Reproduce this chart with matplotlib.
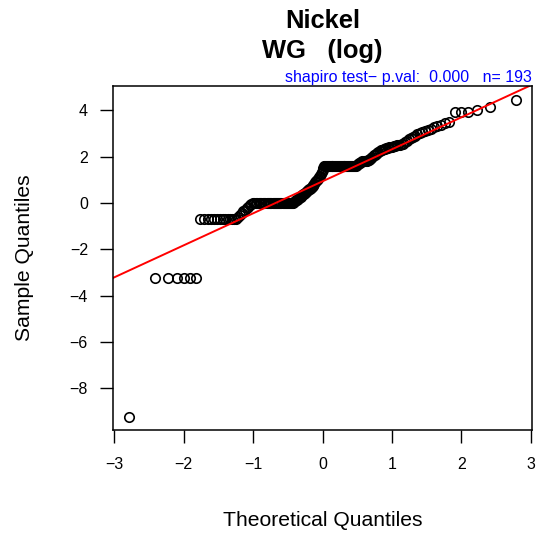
from statistics import NormalDist

import numpy as np
import matplotlib
matplotlib.use("Agg")
import matplotlib.pyplot as plt

plt.rcParams["font.family"] = ["Liberation Sans", "DejaVu Sans"]

# sorted log(Nickel) values, lowest to highest
low_tail = [-9.21] + [-3.22] * 6
step_half = [-0.69] * 14
rise_to_zero = [-0.6, -0.5, -0.43, -0.36, -0.29, -0.22, -0.16, -0.1, -0.05]
step_one = [0.0] * 35
rise_to_five = [0.04, 0.08, 0.11, 0.14, 0.18, 0.21, 0.24, 0.27, 0.30, 0.34, 0.37,
                0.40, 0.44, 0.47, 0.51, 0.54, 0.58, 0.62, 0.66, 0.70, 0.74, 0.78,
                0.83, 0.88, 0.93, 0.99, 1.05, 1.11, 1.18, 1.26, 1.34, 1.42, 1.50]
step_five = [1.61] * 35
upper_mid = [1.65, 1.68, 1.71, 1.74, 1.77, 1.79, 1.79, 1.79, 1.80, 1.82, 1.84, 1.86,
             1.90, 1.95, 2.00, 2.05, 2.08, 2.12, 2.16, 2.20, 2.23, 2.27, 2.30,
             2.32, 2.34, 2.36, 2.38, 2.40, 2.40, 2.42, 2.44, 2.46, 2.48, 2.48, 2.50, 2.52]
upper_rise = [2.56, 2.62, 2.68, 2.74, 2.80, 2.86, 2.90, 2.95, 3.00, 3.05, 3.10, 3.15,
              3.20, 3.26, 3.30, 3.37, 3.43, 3.50]
high_tail = [3.91, 3.91, 3.91, 4.01, 4.14, 4.44]

sample = np.array(low_tail + step_half + rise_to_zero + step_one + rise_to_five
                  + step_five + upper_mid + upper_rise + high_tail)
n = len(sample)
nd = NormalDist()
theo = np.array([nd.inv_cdf((i - 0.5) / n) for i in range(1, n + 1)])

# qqline through the quartiles
q1, q3 = np.quantile(sample, [0.25, 0.75])
z1, z3 = nd.inv_cdf(0.25), nd.inv_cdf(0.75)
slope = (q3 - q1) / (z3 - z1)
intercept = q1 - slope * z1

fig = plt.figure(figsize=(5.37, 5.35), dpi=100)
ax = fig.add_axes([113 / 537, 1 - 430 / 535, (532 - 113) / 537, (430 - 86) / 535])

ax.plot(theo, sample, "o", mfc="none", mec="black", ms=6.8, mew=1.2)
ax.axline((0, intercept), slope=slope, color="red", lw=1.4)

ax.set_xlim(-3.02, 3.02)
ax.set_ylim(-9.79, 5.04)
ax.set_xticks(range(-3, 4))
ax.set_yticks(range(-8, 5, 2))
ax.tick_params(axis="both", length=9.4, width=1.0, labelsize=11.5)
ax.tick_params(axis="x", pad=10)
ax.tick_params(axis="y", pad=8.6)
for s in ax.spines.values():
    s.set_linewidth(1.1)

fig.text(322.5 / 537, 1 - 28 / 535, "Nickel", ha="center", va="baseline",
         fontsize=18.4, fontweight="bold")
fig.text(322.5 / 537, 1 - 58 / 535, "WG   (log)", ha="center", va="baseline",
         fontsize=18.4, fontweight="bold")
fig.text(532 / 537, 1 - 82 / 535, "shapiro test\u2212 p.val:  0.000   n= 193",
         ha="right", va="baseline", fontsize=11.5, color="blue")
fig.text(323 / 537, 1 - 526 / 535, "Theoretical Quantiles", ha="center",
         va="baseline", fontsize=15.2)
fig.text(25 / 537, 1 - 258 / 535, "Sample Quantiles", ha="center", va="center",
         rotation=90, fontsize=15.2)

fig.savefig("out.png", dpi=100)
